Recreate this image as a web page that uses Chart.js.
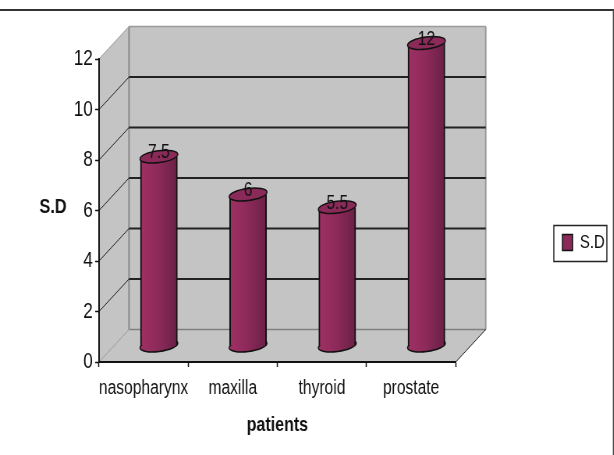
<!DOCTYPE html>
<html>
<head>
<meta charset="utf-8">
<style>
    html, body { margin: 0; padding: 0; background: #fff; overflow: hidden; }
    /* the whole drawing is squeezed sideways so the lettering comes out condensed */
    canvas { display: block; transform: scaleX(0.78); transform-origin: 0 0; }
</style>
<script src="https://cdn.jsdelivr.net/npm/chart.js@4"></script>
</head>
<body>
<canvas id="sdChart" width="787" height="455"></canvas>
<script>
const categories = ['nasopharynx', 'maxilla', 'thyroid', 'prostate'];
const sdValues = [7.5, 6, 5.5, 12];
const seriesName = 'S.D';
const yTicks = [0, 2, 4, 6, 8, 10, 12];

const FONT = '"Liberation Sans", sans-serif';
const SQUEEZE = 0.78;
const sx = v => v / SQUEEZE; // screen px to canvas px, horizontally

const DEPTH_X = sx(30);  // how far the back wall sits from the axes
const DEPTH_Y = -32.5;
const BAR_SHIFT_X = sx(15.3); // bars stand half way into the floor
const BAR_SHIFT_Y = -16;
const BAR_WIDTH = sx(37);
const CAP_RX = sx(19);
const CAP_RY = 6;
const CAP_TILT = -0.1;
const LEGEND_WIDTH = sx(53);
const RIGHT_MARGIN = sx(7);

function line(ctx, x1, y1, x2, y2, color, width) {
    ctx.beginPath();
    ctx.moveTo(x1, y1);
    ctx.lineTo(x2, y2);
    ctx.strokeStyle = color;
    ctx.lineWidth = width;
    ctx.stroke();
}

function polygon(ctx, points, fill) {
    ctx.beginPath();
    points.forEach((p, i) => i ? ctx.lineTo(p[0], p[1]) : ctx.moveTo(p[0], p[1]));
    ctx.closePath();
    ctx.fillStyle = fill;
    ctx.fill();
}

function barGradient(ctx, x) {
    let g = ctx.createLinearGradient(x - BAR_WIDTH / 2, 0, x + BAR_WIDTH / 2, 0);
    g.addColorStop(0, '#a03064');
    g.addColorStop(0.5, '#8c2a5a');
    g.addColorStop(1, '#6a2046');
    return g;
}

function cap(ctx, x, y, fill) {
    ctx.beginPath();
    ctx.ellipse(x, y, CAP_RX, CAP_RY, CAP_TILT, 0, Math.PI * 2);
    ctx.fillStyle = fill;
    ctx.fill();
    ctx.strokeStyle = '#111';
    ctx.lineWidth = 1.5;
    ctx.stroke();
}

const wallsPlugin = {
    id: 'walls',
    // walls, floor and frame go down before the axes are painted
    beforeDraw(chart) {
        const ctx = chart.ctx;
        const a = chart.chartArea;
        const y = chart.scales.y;

        // pin the legend to the right edge
        const lg = chart.legend;
        lg.width = LEGEND_WIDTH;
        lg.right = chart.width - RIGHT_MARGIN;
        lg.left = lg.right - LEGEND_WIDTH;
        lg.adjustHitBoxes();

        ctx.save();
        ctx.fillStyle = '#fff';
        ctx.fillRect(0, 0, chart.width, chart.height);
        polygon(ctx, [[a.left + DEPTH_X, a.top + DEPTH_Y], [a.right + DEPTH_X, a.top + DEPTH_Y],
            [a.right + DEPTH_X, a.bottom + DEPTH_Y], [a.left + DEPTH_X, a.bottom + DEPTH_Y]], '#c4c4c4');
        polygon(ctx, [[a.left, a.top], [a.left + DEPTH_X, a.top + DEPTH_Y],
            [a.left + DEPTH_X, a.bottom + DEPTH_Y], [a.left, a.bottom]], '#c4c4c4');
        polygon(ctx, [[a.left, a.bottom], [a.left + DEPTH_X, a.bottom + DEPTH_Y],
            [a.right + DEPTH_X, a.bottom + DEPTH_Y], [a.right, a.bottom]], '#c4c4c4');

        // gray edges of the box
        line(ctx, a.left + DEPTH_X, a.top + DEPTH_Y, a.right + DEPTH_X, a.top + DEPTH_Y, '#9a9a9a', 1.5);
        line(ctx, a.right + DEPTH_X, a.top + DEPTH_Y, a.right + DEPTH_X, a.bottom + DEPTH_Y, '#9a9a9a', 2);
        line(ctx, a.left + DEPTH_X, a.top + DEPTH_Y, a.left + DEPTH_X, a.bottom + DEPTH_Y, '#8a8a8a', 2);
        line(ctx, a.left + DEPTH_X, a.bottom + DEPTH_Y, a.right + DEPTH_X, a.bottom + DEPTH_Y, '#808080', 1.5);
        line(ctx, a.left, a.top, a.left + DEPTH_X, a.top + DEPTH_Y, '#9a9a9a', 1);
        line(ctx, a.left, a.bottom, a.left + DEPTH_X, a.bottom + DEPTH_Y, '#9a9a9a', 1);
        line(ctx, a.right, a.bottom, a.right + DEPTH_X, a.bottom + DEPTH_Y, '#222', 1);

        yTicks.forEach(v => {
            if (v === 0 || v === 12) return;
            let py = y.getPixelForValue(v);
            line(ctx, a.left, py, a.left + DEPTH_X, py + DEPTH_Y, '#222', 1);
            line(ctx, a.left + DEPTH_X, py + DEPTH_Y, a.right + DEPTH_X, py + DEPTH_Y, '#222', 2);
        });

        // page frame
        line(ctx, 0, 10, chart.width, 10, '#333', 2);
        line(ctx, chart.width - 0.7, 10, chart.width - 0.7, chart.height, '#444', 1.3);
        ctx.restore();
    },
    // bars are pushed back onto the floor, base cap first
    beforeDatasetDraw(chart, args) {
        const ctx = chart.ctx;
        ctx.save();
        ctx.translate(BAR_SHIFT_X, BAR_SHIFT_Y);
        args.meta.data.forEach(bar => cap(ctx, bar.x, bar.base, barGradient(ctx, bar.x)));
    },
    afterDatasetDraw(chart, args) {
        const ctx = chart.ctx;
        args.meta.data.forEach(bar => cap(ctx, bar.x, bar.y, '#8a2a58'));
        // value labels sit on the caps
        ctx.fillStyle = '#111';
        ctx.font = '20px ' + FONT;
        ctx.textAlign = 'center';
        ctx.textBaseline = 'middle';
        args.meta.data.forEach((bar, i) => ctx.fillText(String(sdValues[i]), bar.x, bar.y - 4));
        ctx.restore();
    },
    afterDraw(chart) {
        const ctx = chart.ctx;
        const lg = chart.legend;
        ctx.save();
        ctx.strokeStyle = '#222';
        ctx.lineWidth = 1.5;
        ctx.strokeRect(Math.round(lg.left), Math.round(lg.top + lg.height / 2 - 18) + 0.5,
            Math.round(lg.width), 36);
        ctx.fillStyle = '#111';
        ctx.font = 'bold 21px ' + FONT;
        ctx.textAlign = 'center';
        ctx.textBaseline = 'middle';
        ctx.fillText(seriesName, sx(53), 207);
        ctx.restore();
    }
};

new Chart(document.getElementById('sdChart').getContext('2d'), {
    type: 'bar',
    plugins: [wallsPlugin],
    data: {
        labels: categories,
        datasets: [{
            label: seriesName,
            data: sdValues,
            backgroundColor: c => {
                if (c.type === 'dataset' || c.dataIndex === undefined) return '#8c2a5a';
                return barGradient(c.chart.ctx, c.chart.scales.x.getPixelForValue(c.dataIndex));
            },
            borderColor: '#111',
            borderWidth: { left: 2, right: 2, top: 0, bottom: 0 },
            barThickness: BAR_WIDTH
        }]
    },
    options: {
        responsive: false,
        animation: false,
        layout: { padding: { top: 59, right: RIGHT_MARGIN, bottom: 29, left: 0 } },
        plugins: {
            tooltip: { enabled: false },
            legend: {
                position: 'right',
                labels: {
                    boxWidth: 13,
                    boxHeight: 16,
                    padding: 11,
                    color: '#111',
                    font: { family: FONT, size: 19 },
                    generateLabels: () => [{
                        text: seriesName,
                        fillStyle: '#8c2a5a',
                        strokeStyle: '#111',
                        lineWidth: 1.5,
                        fontColor: '#111',
                        datasetIndex: 0
                    }]
                }
            }
        },
        scales: {
            x: {
                afterFit: s => { s.height = 64; },
                border: { color: '#111', width: 2 },
                grid: { drawOnChartArea: false, color: '#111', tickLength: 5, tickWidth: 1.5 },
                ticks: { color: '#111', padding: 9, maxRotation: 0, autoSkip: false, font: { family: FONT, size: 20 } },
                title: {
                    display: true,
                    text: 'patients',
                    color: '#111',
                    padding: { top: 0, bottom: -11.6 },
                    font: { family: FONT, size: 20.5, weight: 'bold' }
                }
            },
            y: {
                min: 0,
                max: 12,
                afterFit: s => { s.width = sx(99); },
                afterBuildTicks: s => { s.ticks = yTicks.map(v => ({ value: v })); },
                border: { color: '#111', width: 2 },
                grid: { drawOnChartArea: false, color: '#111', tickLength: 5, tickWidth: 1.5 },
                ticks: { color: '#111', padding: 3, font: { family: FONT, size: 22 } }
            },
            // empty axis that keeps the gap between the box and the legend
            gap: {
                position: 'right',
                afterFit: s => { s.width = 118.6; },
                border: { display: false },
                grid: { display: false },
                ticks: { display: false }
            }
        }
    }
});
</script>
</body>
</html>
